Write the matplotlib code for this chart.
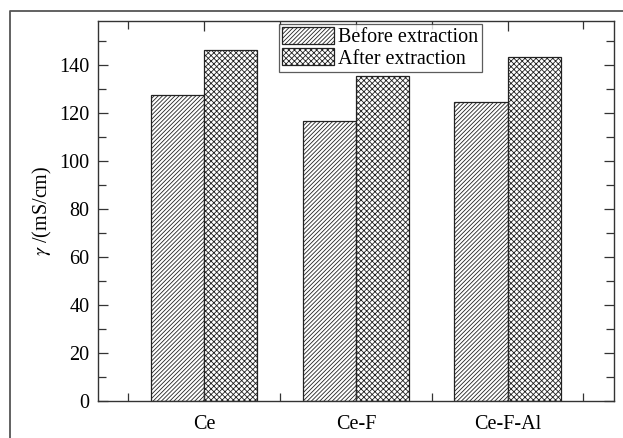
import matplotlib
matplotlib.use('Agg')
import matplotlib.pyplot as plt
from matplotlib.lines import Line2D
import numpy as np

categories = ['Ce', 'Ce-F', 'Ce-F-Al']
before_extraction = [127.5, 116.6, 124.6]
after_extraction = [146.4, 135.6, 143.2]
y_ticks = [0, 20, 40, 60, 80, 100, 120, 140]

plt.rcParams['font.family'] = ['Liberation Serif', 'DejaVu Serif']
plt.rcParams['mathtext.fontset'] = 'stix'
plt.rcParams['hatch.linewidth'] = 0.6
plt.rcParams['hatch.color'] = '#333333'

fig = plt.figure(figsize=(6.23, 4.38), dpi=100)
ax = fig.add_axes([98 / 623, 1 - 400.7 / 438, (613.7 - 98) / 623, (400.7 - 21.3) / 438])

x = np.arange(1, len(categories) + 1)
w = 0.35
ax.bar(x - w / 2, before_extraction, w, facecolor='white', edgecolor='#222222',
       linewidth=0.9, hatch='/' * 8, label='Before extraction')
ax.bar(x + w / 2, after_extraction, w, facecolor='white', edgecolor='#222222',
       linewidth=0.9, hatch='x' * 6, label='After extraction')

ax.set_xlim(0.3, 3.7)
ax.set_ylim(0, 158.3)
ax.set_xticks(x)
ax.set_xticklabels(categories)
ax.set_xticks(np.arange(0.5, 3.6, 0.5), minor=True)
ax.set_yticks(y_ticks)
ax.set_yticks(np.arange(10, 160, 10), minor=True)

ax.tick_params(which='both', direction='in', top=True, right=True, labelsize=14.5,
               color='#333333', width=0.9)
ax.tick_params(which='major', length=7)
ax.tick_params(which='minor', length=6)
ax.tick_params(axis='x', which='major', pad=10)
ax.tick_params(axis='y', pad=6)
for s in ax.spines.values():
    s.set_linewidth(1.0)
    s.set_color('#333333')

ax.set_ylabel(r'$\gamma$ /(mS/cm)', fontsize=14.5, labelpad=4)

leg = ax.legend(loc='upper left', bbox_to_anchor=((279 - 98) / (613.7 - 98), 1 - (24 - 21.3) / 379.4),
                fontsize=14.5, frameon=True, fancybox=False, borderpad=0.15,
                handlelength=2.6, handleheight=0.9, handletextpad=0.2, labelspacing=0.05,
                borderaxespad=0)
leg.get_frame().set_edgecolor('#333333')
leg.get_frame().set_linewidth(0.9)

# outer frame (left and top only)
fig.add_artist(Line2D([10 / 623, 10 / 623, 1], [0, 1 - 11 / 438, 1 - 11 / 438],
                      transform=fig.transFigure, color='#555555', linewidth=1.3))

fig.savefig('out.png', dpi=100)
